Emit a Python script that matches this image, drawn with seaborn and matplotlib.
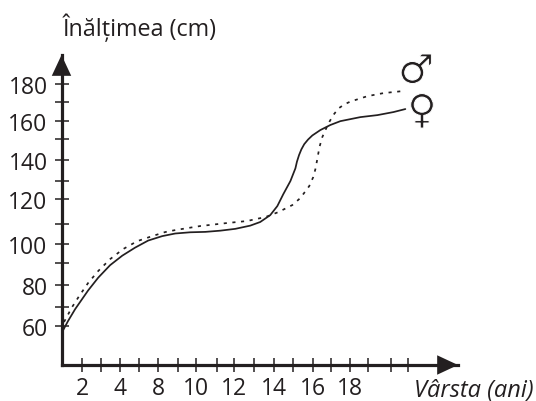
import matplotlib
matplotlib.use('Agg')
import matplotlib.patheffects as pe
import matplotlib.pyplot as plt
import pandas as pd
import seaborn as sns

female_x = [0.0, 0.31, 0.68, 1.35, 1.88, 2.5, 3.13, 3.8, 4.48, 5.21, 5.89, 6.67, 7.45, 8.23,
            9.01, 9.79, 10.31, 10.83, 11.2, 11.51, 11.88, 12.14, 12.22, 12.33, 12.45, 12.6,
            12.8, 13.02, 13.44, 13.96, 14.48, 15.0, 15.52, 16.41, 17.24, 17.86]
female_y = [57.0, 62.5, 68.4, 77.6, 84.0, 90.2, 94.9, 98.9, 102.4, 104.6, 105.9, 106.5, 106.7, 107.3,
            108.2, 109.8, 111.6, 115.0, 119.5, 125.4, 131.9, 138.2, 141.5, 144.8, 147.6, 150.2,
            152.5, 154.5, 157.2, 159.7, 161.6, 162.6, 163.6, 164.6, 166.1, 167.6]

male_x = [0.1, 0.52, 0.89, 1.35, 1.88, 2.5, 3.18, 3.91, 4.69, 5.36, 5.89, 7.19, 8.59, 9.64,
          10.05, 10.57, 11.25, 11.98, 12.4, 12.86, 13.07, 13.18, 13.28, 13.39, 13.54, 13.75,
          13.91, 14.11, 14.38, 14.7, 15.0, 15.89, 16.72, 17.71]
male_y = [62.0, 69.4, 74.9, 81.3, 87.3, 93.2, 98.2, 102.1, 104.6, 106.6, 107.6, 109.6, 111.1, 112.1,
          113.0, 114.0, 116.5, 120.0, 123.5, 129.4, 133.9, 137.8, 142.8, 148.7, 153.7, 158.2,
          161.3, 164.6, 167.9, 170.0, 171.3, 174.0, 175.5, 176.5]

y_major = [60, 80.5, 100.7, 123, 142.5, 161.6, 180]
y_labels = ['60', '80', '100', '120', '140', '160', '180']
y_minor = [69.4, 91.2, 110.6, 131.9, 152.7, 171]

x_major = [1.04, 3.02, 5.0, 6.98, 8.96, 11.04, 13.07, 15]
x_labels = ['2', '4', '8', '10', '12', '14', '16', '18']
x_minor = [2.03, 4.01, 6.04, 8.07, 10, 12.03, 14, 15.94, 17.09, 18.02]

ink = '#231f20'
W, H = 536, 402


# eats into the glyph outline, the symbols in DejaVu are heavier than in the picture
class ThinGlyph(pe.AbstractPathEffect):
    def draw_path(self, renderer, gc, tpath, affine, rgbFace):
        renderer.draw_path(gc, tpath, affine, rgbFace)
        gc0 = renderer.new_gc()
        gc0.copy_properties(gc)
        gc0.set_foreground('white')
        gc0.set_linewidth(0.7)
        renderer.draw_path(gc0, tpath, affine, None)
        gc0.restore()


sns.set_theme(style='white')
plt.rcParams['font.family'] = ['Open Sans', 'DejaVu Sans']

fig = plt.figure(figsize=(W / 100, H / 100), dpi=100)
ax = fig.add_axes([61.5 / W, 1 - 366 / H, (458 - 61.5) / W, (366 - 56) / H])

df_f = pd.DataFrame({'x': female_x, 'y': female_y})
df_m = pd.DataFrame({'x': male_x, 'y': male_y})
sns.lineplot(data=df_f, x='x', y='y', ax=ax, color=ink, lw=1.25, sort=False, estimator=None)
sns.lineplot(data=df_m, x='x', y='y', ax=ax, color=ink, lw=1.25, sort=False, estimator=None,
             linestyle=(0, (1.8, 3.2)))

ax.set_xlim(-0.03, 20.6)
ax.set_ylim(40.7, 194.4)
ax.set_xlabel('')
ax.set_ylabel('')

sns.despine(ax=ax)
for s in ['left', 'bottom']:
    ax.spines[s].set_linewidth(2.3)
    ax.spines[s].set_color(ink)

ax.set_xticks(x_major, x_labels)
ax.set_xticks(x_minor, minor=True)
ax.set_yticks(y_major, y_labels)
ax.set_yticks(y_minor, minor=True)
ax.tick_params(axis='both', which='both', direction='inout', length=10, width=1.1,
               color=ink, labelcolor=ink, labelsize=16.5, bottom=True, left=True)
ax.tick_params(axis='x', which='major', pad=3)
ax.tick_params(axis='y', which='major', pad=5)

# axis arrow heads
arrow = dict(arrowstyle='-|>,head_length=15,head_width=7', mutation_scale=1, color=ink,
             shrinkA=0, shrinkB=0, lw=0)
ax.annotate('', xy=(1, 0), xytext=(0.9, 0), xycoords='axes fraction', arrowprops=arrow)
ax.annotate('', xy=(0, 1), xytext=(0, 0.9), xycoords='axes fraction', arrowprops=arrow)

fig.text(63 / W, 1 - 28 / H, 'Înălțimea (cm)', color=ink, fontsize=16.8, va='center', ha='left')
fig.text(534 / W, 1 - 391 / H, 'Vârsta (ani)', color=ink, fontsize=17, style='italic',
         va='center', ha='right')

fig.text(416 / W, 1 - 73 / H, '♂', color=ink, fontsize=29, family='DejaVu Sans',
         ha='center', va='center', path_effects=[ThinGlyph()])
fig.text(422 / W, 1 - 113 / H, '♀', color=ink, fontsize=29, family='DejaVu Sans',
         ha='center', va='center', path_effects=[ThinGlyph()])

fig.savefig('out.png', dpi=100)
